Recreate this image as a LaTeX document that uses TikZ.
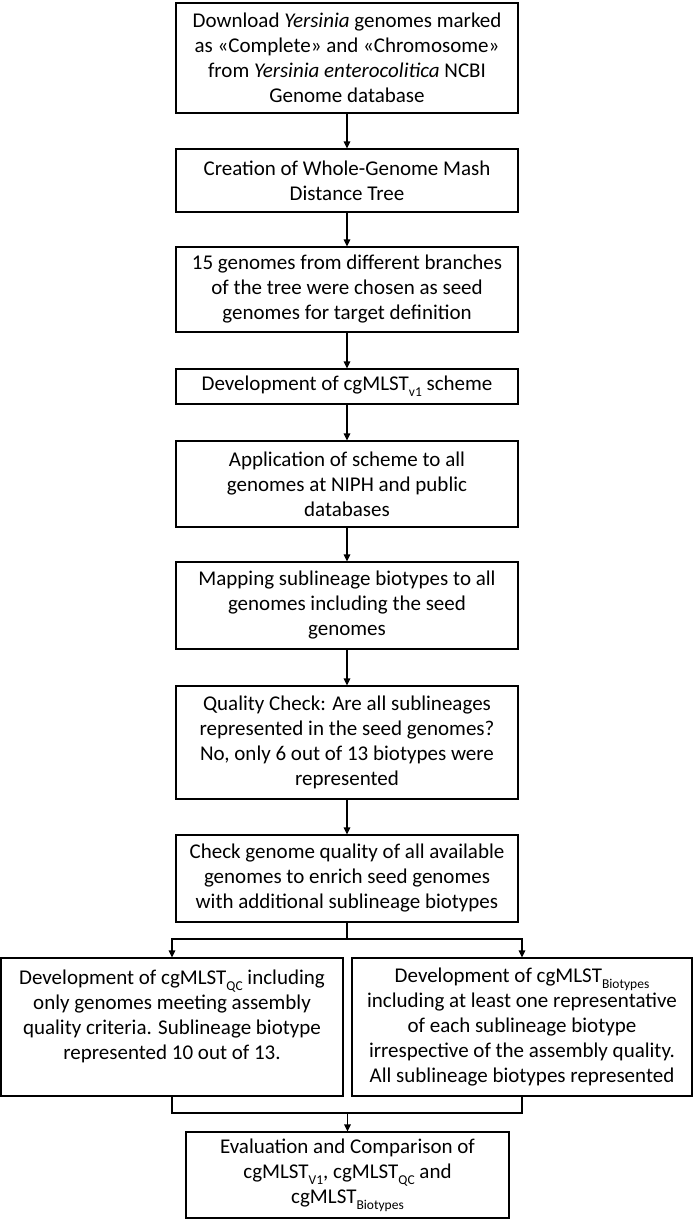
\documentclass[tikz,border=0pt]{standalone}
\usepackage{fontspec}
\setmainfont{Carlito}
\usetikzlibrary{arrows.meta}
\newcommand\mysub[1]{\raisebox{-0.28em}{\fontsize{13.5}{13.5}\selectfont #1}}
\tikzset{
  box/.style={draw=black, line width=1.1pt, rectangle, align=center, inner sep=0pt,
    font=\fontsize{21}{25}\selectfont},
  link/.style={draw=black, line width=1.1pt},
  arr/.style={link, -{Triangle[width=6.5pt,length=7pt]}}
}
\begin{document}
\begin{tikzpicture}[x=1pt,y=-1pt]
\useasboundingbox (0,0) rectangle (694,1219);
\node[box, minimum width=342pt, minimum height=110pt] (b1) at (347,58)
  {Download \textit{Yersinia} genomes marked\\ as «Complete» and «Chromosome»\\ from \textit{Yersinia enterocolitica} NCBI\\ Genome database};
\node[box, minimum width=342pt, minimum height=63pt] (b2) at (347,180.5)
  {Creation of Whole-Genome Mash\\ Distance Tree};
\node[box, minimum width=342pt, minimum height=85pt] (b3) at (347,289.5)
  {15 genomes from different branches\\ of the tree were chosen as seed\\ genomes for target definition};
\node[box, minimum width=342pt, minimum height=35pt] (b4) at (347,386.5)
  {Development of cgMLST\mysub{v1} scheme};
\node[box, minimum width=342pt, minimum height=86pt] (b5) at (347,484)
  {Application of scheme to all\\ genomes at NIPH and public\\ databases};
\node[box, minimum width=342pt, minimum height=87pt] (b6) at (347,605.5)
  {Mapping sublineage biotypes to all\\ genomes including the seed\\ genomes};
\node[box, minimum width=342pt, minimum height=113pt] (b7) at (347,742.5)
  {Quality Check: Are all sublineages\\ represented in the seed genomes?\\ No, only 6 out of 13 biotypes were\\ represented};
\node[box, minimum width=342pt, minimum height=87pt] (b8) at (347,878.5)
  {Check genome quality of all available\\ genomes to enrich seed genomes\\ with additional sublineage biotypes};
\node[box, minimum width=342pt, minimum height=138pt] (b9) at (172,1027)
  {Development of cgMLST\mysub{QC} including\\ only genomes meeting assembly\\ quality criteria. Sublineage biotype\\ represented 10 out of 13.\\ \mbox{}};
\node[box, minimum width=340pt, minimum height=138pt] (b10) at (522,1027)
  {Development of cgMLST\mysub{Biotypes}\\ including at least one representative\\ of each sublineage biotype\\ irrespective of the assembly quality.\\ All sublineage biotypes represented};
\node[box, minimum width=323pt, minimum height=86pt] (b11) at (347.5,1175)
  {Evaluation and Comparison of\\ cgMLST\mysub{V1}, cgMLST\mysub{QC} and\\ cgMLST\mysub{Biotypes}};
\draw[arr] (b1) -- (b2);
\draw[arr] (b2) -- (b3);
\draw[arr] (b3) -- (b4);
\draw[arr] (b4) -- (b5);
\draw[arr] (b5) -- (b6);
\draw[arr] (b6) -- (b7);
\draw[arr] (b7) -- (b8);
\coordinate (br) at (347,939);
\coordinate (mj) at (347.5,1113);
\draw[link] (b8.south) -- (br);
\draw[arr] (br) -| (b9.north);
\draw[arr] (br) -| (b10.north);
\draw[link] (b9.south) |- (mj) -| (b10.south);
\draw[arr] (mj) -- (b11.north);
\end{tikzpicture}
\end{document}
